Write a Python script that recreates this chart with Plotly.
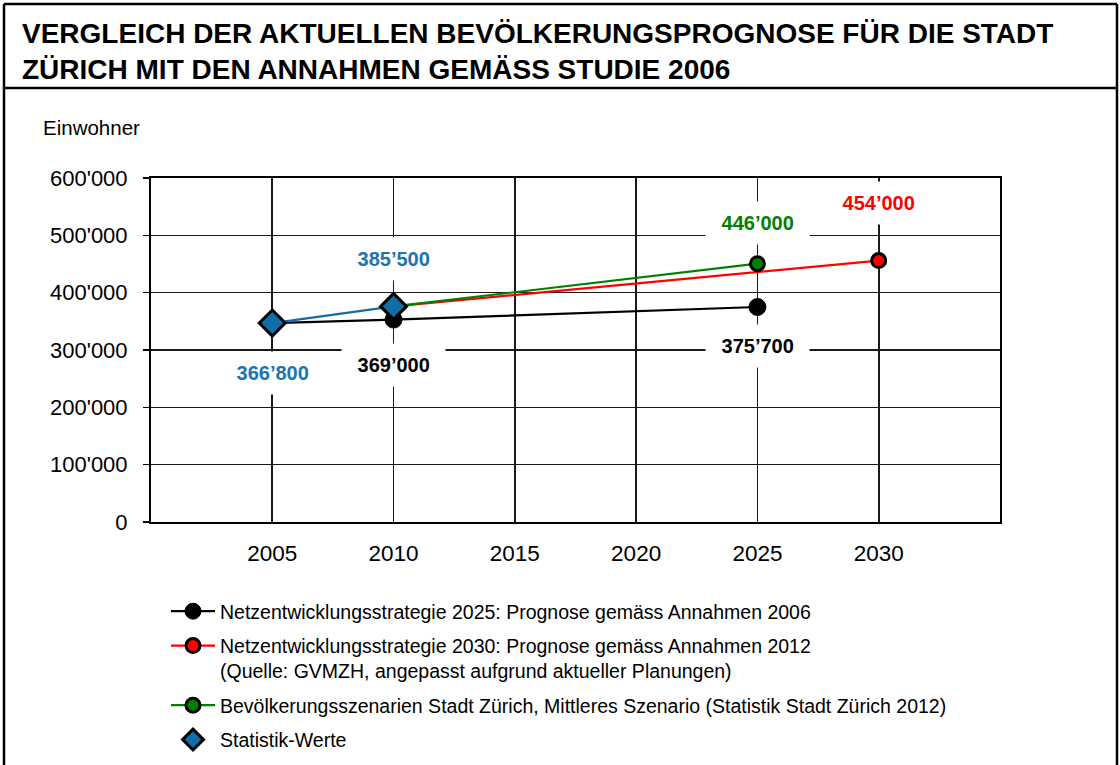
import plotly.graph_objects as go

# ---------------- data ----------------
x_tick_years = [2005, 2010, 2015, 2020, 2025, 2030]
y_tick_values = [0, 100000, 200000, 300000, 400000, 500000, 600000]
y_tick_labels = ["0", "100'000", "200'000", "300'000", "400'000", "500'000", "600'000"]

ne2025_years = [2005, 2010, 2025]
ne2025_values = [347000, 353000, 375000]

ne2030_years = [2010, 2030]
ne2030_values = [376000, 456000]

szen_years = [2010, 2025]
szen_values = [376000, 450500]

stat_years = [2005, 2010]
stat_values = [347000, 376000]

name_ne2025 = "Netzentwicklungsstrategie 2025: Prognose gemäss Annahmen 2006"
name_ne2030 = ("Netzentwicklungsstrategie 2030: Prognose gemäss Annahmen 2012<br>"
               "(Quelle: GVMZH, angepasst aufgrund aktueller Planungen)")
name_szen = "Bevölkerungsszenarien Stadt Zürich, Mittleres Szenario (Statistik Stadt Zürich 2012)"
name_stat = "Statistik-Werte"

stat_labels = ["366’800", "385’500"]
ne2025_labels = ["369’000", "375’700"]      # at 2010 and 2025
szen_label = "446’000"                       # at 2025
ne2030_label = "454’000"                     # at 2030

title_text = ("VERGLEICH DER AKTUELLEN BEVÖLKERUNGSPROGNOSE FÜR DIE STADT<br>"
              "ZÜRICH MIT DEN ANNAHMEN GEMÄSS STUDIE 2006")

# ---------------- style ----------------
BLACK = "#000000"
GRID = "#1a1a1a"
RED = "#FF0000"
GREEN = "#008000"
BLUE = "#0F6EA8"
BLUE_TXT = "#1A75AD"
FONT = "Liberation Sans, Arial, sans-serif"

W, H = 1120, 765
L, R, T, B = 151, 120, 178, 243
PW = W - L - R
PH = H - T - B


def px_x(px):
    return (px - L) / PW


def px_y(py):
    return (H - B - py) / PH


fig = go.Figure()

fig.add_trace(go.Scatter(
    x=ne2025_years, y=ne2025_values, name=name_ne2025, mode="lines+markers",
    line=dict(color=BLACK, width=2.2),
    marker=dict(symbol="circle", size=17, color=BLACK, line=dict(color=BLACK, width=1)),
    legendrank=1, legendgroup="a"))

fig.add_trace(go.Scatter(
    x=ne2030_years, y=ne2030_values, name=name_ne2030, mode="lines+markers",
    line=dict(color=RED, width=2.2),
    marker=dict(symbol="circle", size=14, color=RED, line=dict(color=BLACK, width=3)),
    legendrank=2, legendgroup="b"))

fig.add_trace(go.Scatter(
    x=szen_years, y=szen_values, name=name_szen, mode="lines+markers",
    line=dict(color=GREEN, width=2.2),
    marker=dict(symbol="circle", size=14, color=GREEN, line=dict(color=BLACK, width=3)),
    legendrank=3, legendgroup="c"))

fig.add_trace(go.Scatter(
    x=stat_years, y=stat_values, mode="lines", showlegend=False,
    line=dict(color=BLUE, width=2.2), hoverinfo="skip"))

fig.add_trace(go.Scatter(
    x=stat_years, y=stat_values, name=name_stat, mode="markers",
    marker=dict(symbol="diamond", size=20, color=BLUE, line=dict(color=BLACK, width=3)),
    legendrank=4, legendgroup="d"))

# ---------------- value labels ----------------
lab_font = dict(family=FONT, size=20, color=BLACK, weight="bold")
NB = "\u00a0"


def value_label(x, y, text, color, yshift):
    f = dict(lab_font)
    f["color"] = color
    fig.add_annotation(x=x, y=y, xref="x", yref="y", text=NB + text + NB,
                       showarrow=False, font=f, bgcolor="white",
                       borderpad=10, yshift=yshift)


value_label(stat_years[0], stat_values[0], stat_labels[0], BLUE_TXT, -50)
value_label(stat_years[1], stat_values[1], stat_labels[1], BLUE_TXT, 47)
value_label(ne2025_years[1], ne2025_values[1], ne2025_labels[0], BLACK, -45)
value_label(ne2025_years[2], ne2025_values[2], ne2025_labels[1], BLACK, -39)
value_label(szen_years[1], szen_values[1], szen_label, GREEN, 41)
value_label(ne2030_years[1], ne2030_values[1], ne2030_label, RED, 58)

# ---------------- title & axis caption ----------------
fig.add_annotation(x=px_x(20), y=px_y(16), xref="paper", yref="paper",
                   xanchor="left", yanchor="top", align="left", showarrow=False,
                   text=title_text,
                   font=dict(family=FONT, size=28, color=BLACK, weight="bold"))

fig.add_annotation(x=px_x(41), y=px_y(128), xref="paper", yref="paper",
                   xanchor="left", yanchor="middle", showarrow=False,
                   text="Einwohner", font=dict(family=FONT, size=20.5, color=BLACK))

# ---------------- frame ----------------
frame = dict(color=BLACK, width=2.5)
fig.add_shape(type="line", xref="paper", yref="paper",
              x0=px_x(4), x1=px_x(4), y0=px_y(4), y1=px_y(H + 10), line=frame)
fig.add_shape(type="line", xref="paper", yref="paper",
              x0=px_x(1117), x1=px_x(1117), y0=px_y(4), y1=px_y(H + 10), line=frame)
fig.add_shape(type="line", xref="paper", yref="paper",
              x0=px_x(4), x1=px_x(1117), y0=px_y(4), y1=px_y(4), line=frame)
fig.add_shape(type="line", xref="paper", yref="paper",
              x0=px_x(4), x1=px_x(1117), y0=px_y(88), y1=px_y(88), line=frame)

fig.update_layout(
    width=W, height=H,
    margin=dict(l=L, r=R, t=T, b=B, autoexpand=False),
    paper_bgcolor="white", plot_bgcolor="white",
    font=dict(family=FONT, color=BLACK),
    showlegend=True,
    legend=dict(x=px_x(166), y=px_y(592), xanchor="left", yanchor="top",
                font=dict(family=FONT, size=19.5, color=BLACK),
                traceorder="grouped", tracegroupgap=6, valign="top",
                bgcolor="rgba(0,0,0,0)", itemwidth=44),
    hovermode=False,
)

fig.update_xaxes(range=[2000, 2035], tickmode="array", tickvals=x_tick_years,
                 ticktext=[str(v) for v in x_tick_years],
                 showgrid=True, gridcolor=GRID, gridwidth=1.6,
                 showline=True, linecolor=BLACK, linewidth=2, mirror=True,
                 ticks="", zeroline=False, ticklabelstandoff=10,
                 tickfont=dict(family=FONT, size=22.5, color=BLACK))

fig.update_yaxes(range=[0, 600000], tickmode="array", tickvals=y_tick_values,
                 ticktext=y_tick_labels,
                 showgrid=True, gridcolor=GRID, gridwidth=1.6,
                 showline=True, linecolor=BLACK, linewidth=2, mirror=True,
                 ticks="outside", ticklen=6, tickwidth=1.5, tickcolor=BLACK,
                 zeroline=False, ticklabelstandoff=11,
                 tickfont=dict(family=FONT, size=22, color=BLACK))

fig.write_html("out.html",
               config={"displayModeBar": False, "staticPlot": True},
               post_script="document.body.style.margin='0px';"
                           "document.body.style.overflow='hidden';")
